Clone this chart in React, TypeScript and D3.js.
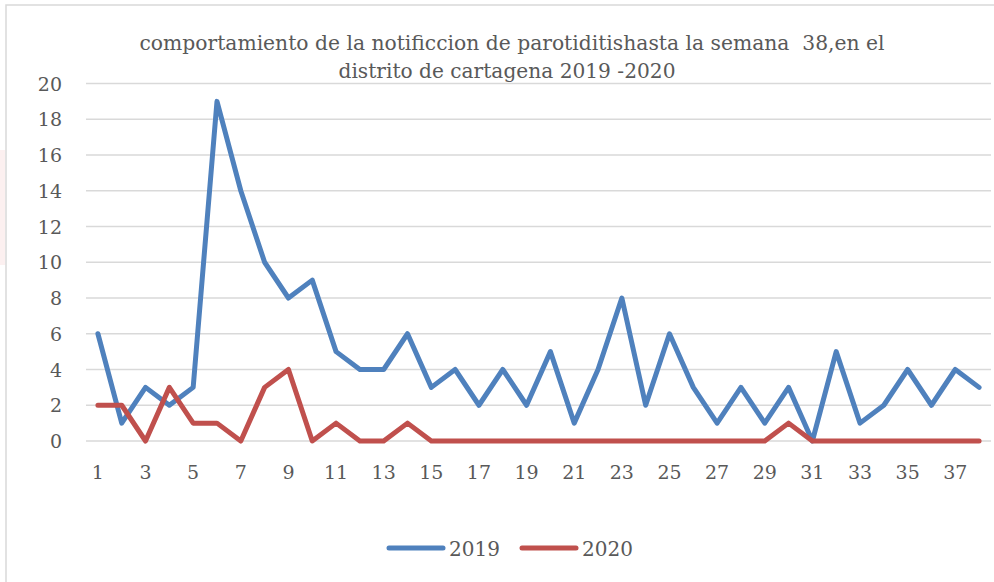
import React, { useEffect, useRef } from 'react';
import * as d3 from 'd3';

const weeks = d3.range(1, 39).map(String);
const cases2019 = [6, 1, 3, 2, 3, 19, 14, 10, 8, 9, 5, 4, 4, 6, 3, 4, 2, 4, 2, 5, 1, 4, 8, 2, 6, 3, 1, 3, 1, 3, 0, 5, 1, 2, 4, 2, 4, 3];
const cases2020 = [2, 2, 0, 3, 1, 1, 0, 3, 4, 0, 1, 0, 0, 1, 0, 0, 0, 0, 0, 0, 0, 0, 0, 0, 0, 0, 0, 0, 0, 1, 0, 0, 0, 0, 0, 0, 0, 0];
const yTicks = [0, 2, 4, 6, 8, 10, 12, 14, 16, 18, 20];
const seriesNames = ['2019', '2020'];
const colors = ['#4F81BD', '#C0504D'];
const titleLines = [
  'comportamiento de la notificcion de parotiditishasta la semana  38,en el',
  'distrito de cartagena 2019 -2020',
];

const W = 994;
const H = 582;
const FONT = '"DejaVu Serif", "Liberation Serif", serif';

export default function App() {
  const ref = useRef<SVGSVGElement>(null);

  useEffect(() => {
    const svg = d3.select(ref.current);
    svg.selectAll('*').remove();

    // chart frame + faint slide watermark behind it
    svg.append('rect').attr('x', 0).attr('y', 150).attr('width', 5).attr('height', 115).attr('fill', '#fcf0f0');
    svg.append('rect').attr('x', 6).attr('y', 5).attr('width', W).attr('height', H)
      .attr('fill', '#fff').attr('stroke', '#d9d9d9').attr('stroke-width', 1.5);

    const x = d3.scalePoint().domain(weeks).range([86, 991]).padding(0.5);
    const y = d3.scaleLinear().domain([0, 20]).range([441, 83.5]);

    // grid
    svg.append('g').selectAll('line').data(yTicks).join('line')
      .attr('x1', 86).attr('x2', 991)
      .attr('y1', d => y(d)).attr('y2', d => y(d))
      .attr('stroke', '#d9d9d9').attr('stroke-width', 1.5);

    // y labels
    svg.append('g').selectAll('text').data(yTicks).join('text')
      .attr('x', 62).attr('y', d => y(d) + 7)
      .attr('text-anchor', 'end')
      .attr('font-family', FONT).attr('font-size', 19).attr('fill', '#595959')
      .text(d => d);

    // x labels (every other week)
    svg.append('g').selectAll('text').data(weeks.filter((_, i) => i % 2 === 0)).join('text')
      .attr('x', d => x(d) as number).attr('y', 479)
      .attr('text-anchor', 'middle')
      .attr('font-family', FONT).attr('font-size', 19).attr('fill', '#595959')
      .text(d => d);

    const line = d3.line<number>()
      .x((_, i) => x(weeks[i]) as number)
      .y(d => y(d));

    [cases2019, cases2020].forEach((vals, k) => {
      svg.append('path').datum(vals)
        .attr('d', line)
        .attr('fill', 'none')
        .attr('stroke', colors[k])
        .attr('stroke-width', 5)
        .attr('stroke-linejoin', 'round')
        .attr('stroke-linecap', 'round');
    });

    // title
    svg.append('text').attr('x', 512).attr('y', 50).attr('text-anchor', 'middle')
      .attr('font-family', FONT).attr('font-size', 21).attr('fill', '#595959')
      .style('white-space', 'pre')
      .attr('textLength', 745).attr('lengthAdjust', 'spacingAndGlyphs')
      .text(titleLines[0]);
    svg.append('text').attr('x', 507).attr('y', 78).attr('text-anchor', 'middle')
      .attr('font-family', FONT).attr('font-size', 21).attr('fill', '#595959')
      .attr('textLength', 337).attr('lengthAdjust', 'spacingAndGlyphs')
      .text(titleLines[1]);

    // legend
    const legendX = [389, 522];
    seriesNames.forEach((name, k) => {
      svg.append('line')
        .attr('x1', legendX[k]).attr('x2', legendX[k] + 54)
        .attr('y1', 548).attr('y2', 548)
        .attr('stroke', colors[k]).attr('stroke-width', 5).attr('stroke-linecap', 'round');
      svg.append('text')
        .attr('x', legendX[k] + 60).attr('y', 556)
        .attr('font-family', FONT).attr('font-size', 20).attr('fill', '#595959')
        .text(name);
    });
  }, []);

  return (
    <svg ref={ref} width={W} height={H}
      style={{ position: 'absolute', left: 0, top: 0, background: '#fff' }} />
  );
}
